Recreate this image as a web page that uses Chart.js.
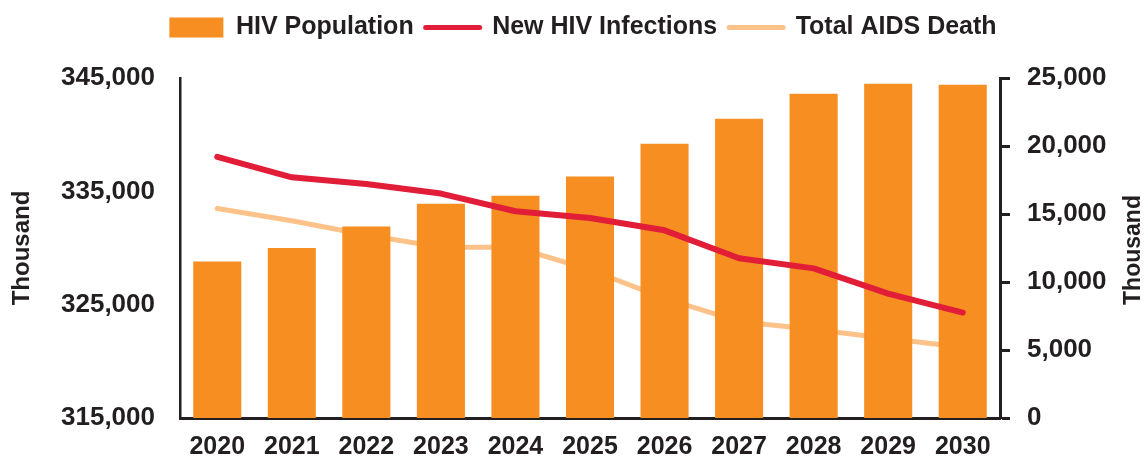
<!DOCTYPE html>
<html lang="en">
<head>
  <meta charset="UTF-8">
  <title>HIV Population, New Infections and AIDS Deaths</title>
  <style>
    body {
      margin: 0;
      background: #fff;
    }
    #wrap {
      width: 1148px;
      height: 468px;
      position: relative;
    }
  </style>
  <script src="https://cdn.jsdelivr.net/npm/chart.js"></script>
</head>
<body>
  <div id="wrap">
    <canvas id="hivChart"></canvas>
  </div>

  <script>
    // values (thousands)
    const years = ['2020', '2021', '2022', '2023', '2024', '2025', '2026', '2027', '2028', '2029', '2030'];
    const hivPopulation = [328800, 330000, 331900, 333900, 334600, 336300, 339200, 341400, 343600, 344500, 344400];
    const newInfections = [19200, 17700, 17200, 16500, 15200, 14700, 13800, 11750, 11000, 9150, 7750];
    const aidsDeaths = [15400, 14500, 13450, 12550, 12550, 10900, 8800, 7100, 6500, 5850, 5200];
    const leftTicks = [315000, 325000, 335000, 345000];
    const rightTicks = [0, 5000, 10000, 15000, 20000, 25000];

    const dark = '#231f20';
    const orange = '#f68e21';
    const red = '#e11d38';
    const peach = '#fdc28a';
    const fontFamily = '"Liberation Sans", Arial, sans-serif';

    const fmt = v => Number(v).toLocaleString('en-US');

    // push the plot area down below the legend, nudge the legend a bit
    const legendGap = {
      id: 'legendGap',
      beforeLayout(chart) {
        const legend = chart.legend;
        if (legend && !legend._gapPatched) {
          const fit = legend.fit;
          legend.fit = function () {
            fit.call(this);
            this.height += 31;
          };
          const draw = legend.draw;
          legend.draw = function () {
            this.ctx.save();
            this.ctx.translate(9, 3);
            draw.call(this);
            this.ctx.restore();
          };
          legend._gapPatched = true;
        }
      }
    };

    // right axis title reads bottom-to-top like the left one
    const rightTitle = {
      id: 'rightTitle',
      afterDraw(chart) {
        const { ctx, chartArea } = chart;
        ctx.save();
        ctx.translate(chart.width - 14, (chartArea.top + chartArea.bottom) / 2 + 2);
        ctx.rotate(-Math.PI / 2);
        ctx.font = 'bold 23px ' + fontFamily;
        ctx.fillStyle = dark;
        ctx.textAlign = 'center';
        ctx.textBaseline = 'middle';
        ctx.fillText('Thousand', 0, 0);
        ctx.restore();
      }
    };

    new Chart(document.getElementById('hivChart'), {
      type: 'bar',
      data: {
        labels: years,
        datasets: [
          {
            label: 'HIV Population',
            data: hivPopulation,
            backgroundColor: orange,
            borderColor: orange,
            yAxisID: 'yLeft',
            barPercentage: 0.645,
            categoryPercentage: 1,
            order: 2
          },
          {
            type: 'line',
            label: 'New HIV Infections',
            data: newInfections,
            borderColor: red,
            backgroundColor: red,
            borderWidth: 6,
            borderCapStyle: 'round',
            borderJoinStyle: 'round',
            pointRadius: 0,
            tension: 0,
            yAxisID: 'yRight',
            order: 1
          },
          {
            type: 'line',
            label: 'Total AIDS Death',
            data: aidsDeaths,
            borderColor: peach,
            backgroundColor: peach,
            borderWidth: 5,
            borderCapStyle: 'round',
            borderJoinStyle: 'round',
            pointRadius: 0,
            tension: 0,
            yAxisID: 'yRight',
            order: 3
          }
        ]
      },
      options: {
        responsive: true,
        maintainAspectRatio: false,
        animation: false,
        layout: { padding: { top: 0, left: 0, right: 0, bottom: 0 } },
        plugins: {
          tooltip: { enabled: false },
          legend: {
            position: 'top',
            labels: {
              usePointStyle: true,
              pointStyleWidth: 54,
              boxHeight: 20,
              padding: 12,
              color: dark,
              font: { family: fontFamily, size: 25, weight: 'bold' },
              generateLabels(chart) {
                return chart.data.datasets.map((ds, i) => ({
                  text: ds.label,
                  fillStyle: ds.backgroundColor,
                  strokeStyle: ds.borderColor,
                  lineWidth: ds.type === 'line' ? 5 : 0,
                  lineCap: 'round',
                  pointStyle: ds.type === 'line' ? 'line' : 'rect',
                  fontColor: dark,
                  hidden: !chart.isDatasetVisible(i),
                  datasetIndex: i
                }));
              }
            }
          }
        },
        scales: {
          x: {
            offset: true,
            grid: { display: false, drawTicks: false },
            border: { display: true, color: dark, width: 3 },
            ticks: {
              color: dark,
              padding: 14,
              maxRotation: 0,
              font: { family: fontFamily, size: 25, weight: 'bold' }
            },
            afterFit(scale) { scale.height = 50; }
          },
          yLeft: {
            position: 'left',
            min: 315000,
            max: 345000,
            afterBuildTicks(scale) { scale.ticks = leftTicks.map(v => ({ value: v })); },
            grid: { display: false, drawTicks: false },
            border: { display: true, color: dark, width: 2.5 },
            ticks: {
              color: dark,
              padding: 25,
              callback: v => fmt(v),
              font: { family: fontFamily, size: 26, weight: 'bold' }
            },
            title: {
              display: true,
              text: 'Thousand',
              color: dark,
              padding: { top: 8, bottom: 0 },
              font: { family: fontFamily, size: 24, weight: 'bold' }
            },
            afterFit(scale) { scale.width = 180; }
          },
          yRight: {
            position: 'right',
            min: 0,
            max: 25000,
            afterBuildTicks(scale) { scale.ticks = rightTicks.map(v => ({ value: v })); },
            grid: {
              display: true,
              drawOnChartArea: false,
              drawTicks: true,
              tickLength: 10,
              tickWidth: 3,
              tickColor: dark
            },
            border: { display: true, color: dark, width: 3 },
            ticks: {
              color: dark,
              padding: 17,
              callback: v => fmt(v),
              font: { family: fontFamily, size: 26, weight: 'bold' }
            },
            afterFit(scale) { scale.width = 148; }
          }
        }
      },
      plugins: [legendGap, rightTitle]
    });
  </script>
</body>
</html>
